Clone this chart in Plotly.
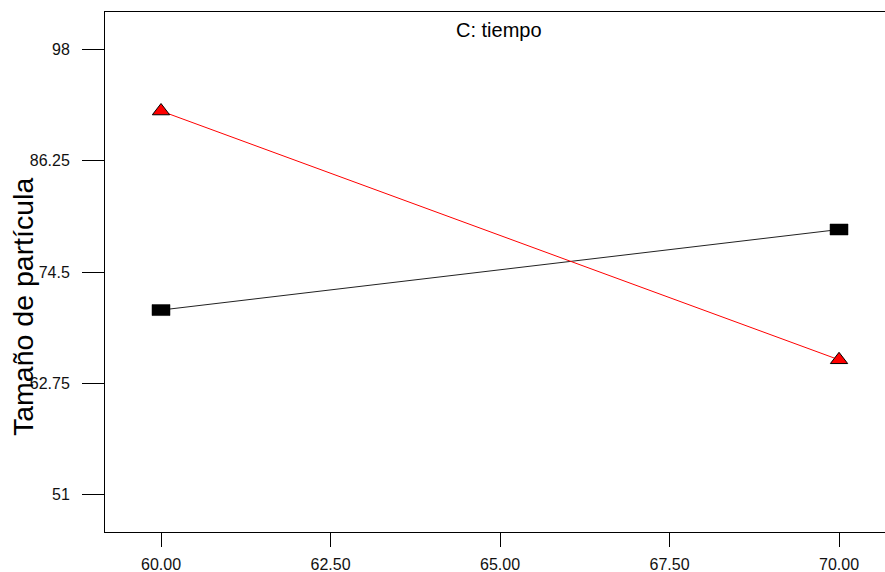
import plotly.graph_objects as go

# Data
x_levels = [60, 70]
series_red = [91.5, 65.25]     # triangles
series_black = [70.5, 79.0]    # squares
y_ticks = [51, 62.75, 74.5, 86.25, 98]
y_tick_labels = ["51", "62.75", "74.5", "86.25", "98"]
x_ticks = [60, 62.5, 65, 67.5, 70]
x_tick_labels = ["60.00", "62.50", "65.00", "67.50", "70.00"]
title_text = "C: tiempo"
y_title = "Tamaño de partícula"

fig = go.Figure()

fig.add_trace(go.Scatter(
    x=x_levels, y=series_black, mode="lines",
    line=dict(color="#222222", width=1), hoverinfo="skip", showlegend=False))

fig.add_trace(go.Scatter(
    x=x_levels, y=series_red, mode="lines+markers",
    line=dict(color="red", width=1),
    marker=dict(symbol="triangle-up", size=15, color="red",
                line=dict(color="black", width=1)),
    showlegend=False))

# rectangular markers for the black series (pixel-sized, anchored at data)
shapes = []
for xv, yv in zip(x_levels, series_black):
    shapes.append(dict(type="rect", xref="x", yref="y",
                       xsizemode="pixel", ysizemode="pixel",
                       xanchor=xv, yanchor=yv,
                       x0=-9, x1=9, y0=-5.5, y1=5.5,
                       fillcolor="black", line=dict(color="black", width=0.5),
                       layer="above"))

fig.update_layout(
    width=885, height=572,
    margin=dict(l=105, r=0, t=12, b=40),
    plot_bgcolor="white", paper_bgcolor="white",
    font=dict(family="Liberation Sans, Arial, sans-serif", color="#111111"),
    shapes=shapes,
    showlegend=False,
    annotations=[
        dict(text=title_text, xref="paper", yref="paper",
             x=0.505, y=1, yanchor="top", xanchor="center",
             yshift=-5, showarrow=False,
             font=dict(size=20, color="black")),
        dict(text=y_title, xref="paper", yref="paper", textangle=-90,
             x=0, xshift=-82, xanchor="center", y=0.4327, yanchor="middle",
             showarrow=False, font=dict(size=28.5, color="black")),
    ],
)

fig.update_xaxes(
    range=[59.174, 70.678], tickvals=x_ticks, ticktext=x_tick_labels,
    ticks="outside", ticklen=14, tickcolor="black", tickwidth=1,
    showline=True, linecolor="black", linewidth=1, mirror=True,
    showgrid=False, zeroline=False, tickfont=dict(size=16),
    ticklabelstandoff=4)

fig.update_yaxes(
    range=[47.08, 101.95], tickvals=y_ticks, ticktext=y_tick_labels,
    ticks="outside", ticklen=22, tickcolor="black", tickwidth=1,
    showline=True, linecolor="black", linewidth=1, mirror=True,
    showgrid=False, zeroline=False, tickfont=dict(size=16),
    ticklabelstandoff=9)

fig.write_html("out.html")
